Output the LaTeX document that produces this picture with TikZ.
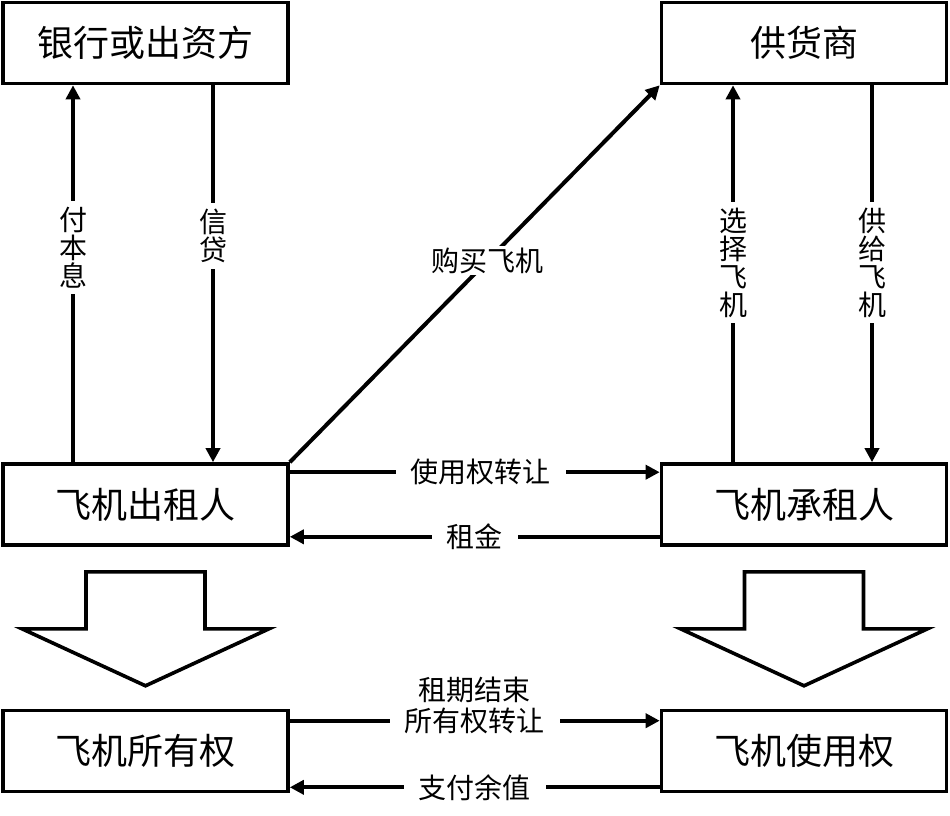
\documentclass[tikz,border=0pt]{standalone}
\usepackage{fontspec}
\setmainfont{Noto Sans CJK SC}
\usetikzlibrary{arrows.meta,positioning}

\begin{document}
\begin{tikzpicture}[x=1pt,y=-1pt,on grid,
  box/.style={draw,line width=3.6pt,minimum width=285pt,minimum height=81pt,inner sep=0pt,font=\fontsize{36}{36}\selectfont},
  lbl/.style={fill=white,inner xsep=15pt,inner ysep=2pt,font=\fontsize{28}{31}\selectfont,align=center},
  vlbl/.style={fill=white,inner xsep=2pt,inner ysep=6pt,font=\fontsize{28}{28}\selectfont,align=center},
  flow/.style={line width=4pt,-{Triangle[length=14pt,width=14pt]}},
  hollow/.style={draw,line width=3.6pt,fill=white,line join=miter}]
\useasboundingbox (0,0) rectangle (950,816);

% parties
\node[box] (bank) at (145.5,43) {银行或出资方};
\node[box] (supplier) [right=658.5pt of bank] {供货商};
\node[box] (lessor) [below=461.5pt of bank] {飞机出租人};
\node[box] (lessee) [right=658.5pt of lessor] {飞机承租人};
\node[box] (owner) [below=246.5pt of lessor] {飞机所有权};
\node[box] (user) [right=658.5pt of owner] {飞机使用权};

% flows
\path[flow]
  ([xshift=-72.5pt]lessor.north) edge node[vlbl,pos=0.57] {付\\本\\息} ([xshift=-72.5pt]bank.south)
  ([xshift=67.5pt]bank.south) edge node[vlbl,pos=0.40] {信\\贷} ([xshift=67.5pt]lessor.north)
  (lessor.north east) edge node[lbl,pos=0.535] {购买飞机} (supplier.south west)
  ([xshift=-71pt]lessee.north) edge node[vlbl,pos=0.53] {选\\择\\飞\\机} ([xshift=-71pt]supplier.south)
  ([xshift=68pt]supplier.south) edge node[vlbl,pos=0.47] {供\\给\\飞\\机} ([xshift=68pt]lessee.north)
  ([yshift=-10pt]lessor.north east) edge node[lbl,pos=0.516] {使用权转让} ([yshift=-10pt]lessee.north west)
  ([yshift=10pt]lessee.south west) edge node[lbl,pos=0.5] {租金} ([yshift=10pt]lessor.south east)
  ([yshift=-12pt]owner.north east) edge node[lbl,pos=0.5,yshift=15.5pt] {租期结束\\所有权转让} ([yshift=-12pt]user.north west)
  ([yshift=6pt]user.south west) edge node[lbl,pos=0.5] {支付余值} ([yshift=6pt]owner.south east);

% big hollow arrows
\foreach \n in {lessor,lessee}
  \draw[hollow] ([xshift=-59.5pt,yshift=-25pt]\n.south) -- ++(0,57) -- ++(-64,0) -- ++(123.5,57)
    -- ++(123.5,-57) -- ++(-64,0) -- ++(0,-57) -- cycle;
\end{tikzpicture}
\end{document}
